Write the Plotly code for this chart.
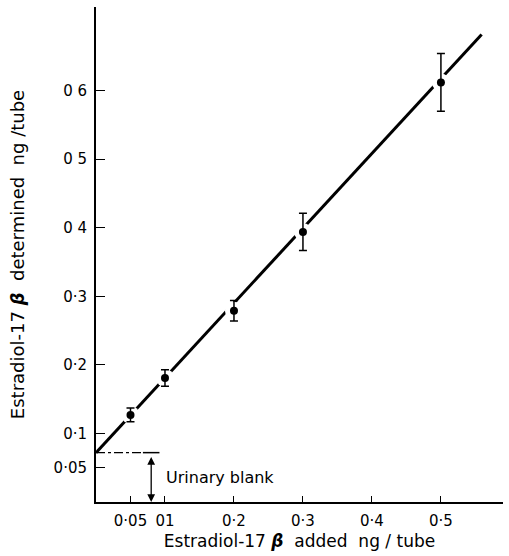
import plotly.graph_objects as go

# Data
x_added = [0.05, 0.1, 0.2, 0.3, 0.5]
y_determined = [0.127, 0.181, 0.279, 0.394, 0.612]
y_err = [0.010, 0.012, 0.015, 0.027, 0.042]

fit_x = [0.0, 0.559]
fit_intercept = 0.072
fit_slope = 1.091
fit_y = [fit_intercept + fit_slope * v for v in fit_x]

blank_level = 0.072
blank_x = 0.08

x_tickvals = [0.05, 0.1, 0.2, 0.3, 0.4, 0.5]
x_ticktext = ["0·05", "01", "0·2", "0·3", "0·4", "0·5"]
y_tickvals = [0.05, 0.1, 0.2, 0.3, 0.4, 0.5, 0.6]
y_ticktext = ["0·05", "0·1", "0·2", "0·3", "0 4", "0 5", "0 6"]

FONT = "DejaVu Sans"

fig = go.Figure()

# fitted line
fig.add_trace(go.Scatter(x=fit_x, y=fit_y, mode="lines",
                         line=dict(color="black", width=3), hoverinfo="skip"))
# white halo to break the line at each point
fig.add_trace(go.Scatter(x=x_added, y=y_determined, mode="markers",
                         marker=dict(color="white", size=18, line=dict(width=0)),
                         hoverinfo="skip"))
# points with error bars
fig.add_trace(go.Scatter(x=x_added, y=y_determined, mode="markers",
                         marker=dict(color="black", size=8),
                         error_y=dict(type="data", array=y_err, visible=True,
                                      color="black", thickness=1.5, width=4)))
# urinary blank dash-dot line
fig.add_trace(go.Scatter(x=[0, blank_x - 0.012], y=[blank_level, blank_level], mode="lines",
                         line=dict(color="black", width=1.3, dash="dashdot"), hoverinfo="skip"))
fig.add_trace(go.Scatter(x=[blank_x - 0.012, blank_x + 0.012], y=[blank_level, blank_level],
                         mode="lines", line=dict(color="black", width=1.5), hoverinfo="skip"))

fig.add_annotation(x=blank_x, y=0.0, ax=blank_x, ay=blank_level - 0.004,
                   xref="x", yref="y", axref="x", ayref="y",
                   text="", showarrow=True, arrowhead=2, arrowsize=1.2,
                   arrowwidth=1.3, arrowside="end+start", arrowcolor="black")
fig.add_annotation(x=0.099, y=0.036, xref="x", yref="y", text="Urinary blank",
                   showarrow=False, xanchor="left",
                   font=dict(family=FONT, size=16, color="black"))

fig.update_layout(
    width=509, height=556,
    margin=dict(l=96, r=6, t=7, b=54),
    paper_bgcolor="white", plot_bgcolor="white",
    showlegend=False,
    font=dict(family=FONT, size=15, color="black"),
)
fig.update_xaxes(range=[0, 0.59], showgrid=False, zeroline=False,
                 showline=True, linecolor="black", linewidth=2,
                 tickvals=x_tickvals, ticktext=x_ticktext,
                 ticks="inside", ticklen=6, tickwidth=1.3, tickcolor="black",
                 tickfont=dict(family=FONT, size=15), ticklabelstandoff=4,
                 title=dict(text="Estradiol-17 <b><i>β</i></b>  added  ng / tube",
                            font=dict(family=FONT, size=17), standoff=6))
fig.update_yaxes(range=[0, 0.722], showgrid=False, zeroline=False,
                 showline=True, linecolor="black", linewidth=2,
                 tickvals=y_tickvals, ticktext=y_ticktext,
                 ticks="inside", ticklen=9, tickwidth=1.3, tickcolor="black",
                 tickfont=dict(family=FONT, size=15), ticklabelstandoff=4,
                 title=dict(text="Estradiol-17 <b><i>β</i></b>  determined  ng /tube",
                            font=dict(family=FONT, size=18), standoff=24))

fig.write_html("out.html")
